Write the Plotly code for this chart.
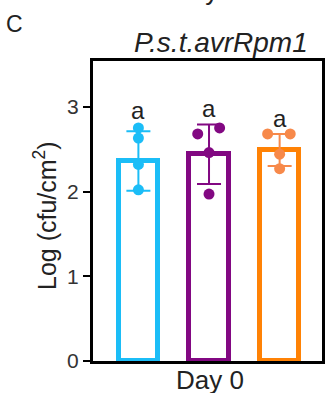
import plotly.graph_objects as go

# ---- data ----
groups = ["g1", "g2", "g3"]
bar_means = [2.36, 2.44, 2.49]
err_sd = [0.35, 0.35, 0.19]
pts_g1 = [2.75, 2.63, 2.32, 2.02]
pts_g2 = [2.68, 2.75, 2.46, 1.97]
pts_g3 = [2.68, 2.68, 2.44, 2.27]
jit_g1 = [0.0, 0.0, 0.0, 0.0]
jit_g2 = [-0.16, 0.15, 0.0, 0.0]
jit_g3 = [-0.17, 0.15, 0.0, 0.0]
letters = ["a", "a", "a"]
letter_y = [2.77, 2.80, 2.68]
y_ticks = [0, 1, 2, 3]

bar_colors = ["#1BBDF7", "#820882", "#FF8205"]
dot_colors = ["#1BBDF7", "#820882", "#F7894A"]
FONT = "Arial, Liberation Sans, sans-serif"
TXT = "#222222"

fig = go.Figure()
xs = list(range(len(groups)))
fig.add_trace(go.Bar(
    x=xs, y=bar_means, width=0.56,
    marker=dict(color="white", line=dict(color=bar_colors, width=5)),
    showlegend=False, hoverinfo="skip"))

for i, (pts, jit) in enumerate([(pts_g1, jit_g1), (pts_g2, jit_g2), (pts_g3, jit_g3)]):
    fig.add_trace(go.Scatter(
        x=[xs[i]], y=[bar_means[i]], mode="markers",
        marker=dict(size=1, opacity=0),
        error_y=dict(type="data", array=[err_sd[i]], symmetric=True,
                     color=dot_colors[i], thickness=2, width=12),
        showlegend=False, hoverinfo="skip"))
    fig.add_trace(go.Scatter(
        x=[xs[i] + j for j in jit], y=pts, mode="markers",
        marker=dict(size=11, color=dot_colors[i], line=dict(width=0)),
        showlegend=False, hoverinfo="skip"))

for i, (t, yv) in enumerate(zip(letters, letter_y)):
    fig.add_annotation(x=xs[i], y=yv, text=t, showarrow=False, yanchor="bottom",
                       font=dict(family=FONT, size=24, color=TXT))

# panel title
fig.add_annotation(xref="paper", yref="paper", x=0.5, y=1.0, yshift=1,
                   text="<i>P.s.t.avrRpm1</i>", showarrow=False, yanchor="bottom",
                   xshift=13, font=dict(family=FONT, size=28, color=TXT))
# x label
fig.add_annotation(xref="paper", yref="paper", x=0.5, y=0, yshift=-2,
                   text="Day 0", showarrow=False, yanchor="top", xshift=2,
                   font=dict(family=FONT, size=26, color=TXT))
# y label
fig.add_annotation(xref="paper", yref="paper", x=0, y=0.5, xshift=-48, yshift=-5,
                   text="Log (cfu/cm<sup>2</sup>)", textangle=-90, showarrow=False,
                   xanchor="center", yanchor="middle",
                   font=dict(family=FONT, size=25, color=TXT))
# panel letter
fig.add_annotation(xref="paper", yref="paper", x=0, y=1.0, xshift=-89, yshift=37,
                   xanchor="left", yanchor="middle", text="C", showarrow=False,
                   font=dict(family=FONT, size=23, color=TXT))
# clipped text of the panel above
fig.add_annotation(xref="paper", yref="paper", x=0.5, y=1.0, yshift=53, xshift=-2,
                   yanchor="bottom", text="Day 0", showarrow=False,
                   font=dict(family=FONT, size=26, color=TXT))

fig.update_layout(
    width=330, height=393, margin=dict(l=93, r=5, t=61, b=32),
    paper_bgcolor="white", plot_bgcolor="white",
    font=dict(family=FONT, color="#333"),
    xaxis=dict(range=[-0.643, 2.60], showticklabels=False, ticks="",
               showgrid=False, zeroline=False, showline=True,
               linecolor="black", linewidth=3, mirror=True),
    yaxis=dict(range=[0, 3.54], tickvals=y_ticks, ticks="outside", ticklen=7,
               tickwidth=2, tickcolor="black", tickfont=dict(size=21, color="#333"),
               showgrid=False, zeroline=False, showline=True,
               linecolor="black", linewidth=3, mirror=True),
    bargap=0,
)

fig.write_html("out.html", config={"displayModeBar": False},
               post_script="document.body.style.margin='0';")
